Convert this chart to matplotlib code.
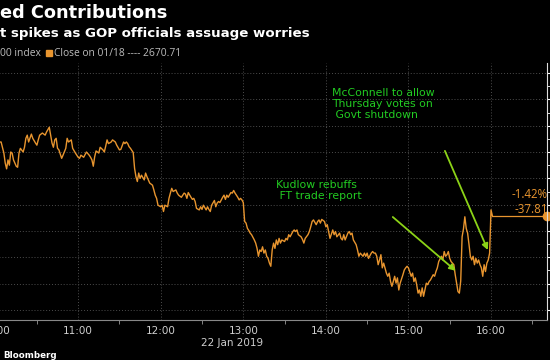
import matplotlib.pyplot as plt
from matplotlib.patches import Rectangle
from matplotlib.ticker import FuncFormatter, MultipleLocator

plt.rcParams['font.family'] = ['DejaVu Sans']

# S&P 500, 22 Jan 2019 -- minutes after 10:00 and index level
mins = [3, 4, 6, 7, 8, 9, 10, 11, 12, 13, 15, 16, 17, 18, 20, 21, 22, 23, 24, 26,
        27, 29, 30, 31, 32, 34, 36, 37, 39, 40, 41, 42, 43, 44, 45, 46, 48, 49, 51, 52,
        53, 55, 56, 58, 60, 61, 62, 64, 66, 68, 69, 70, 71, 72, 73, 75, 76, 78, 79, 80,
        81, 82, 84, 85, 87, 88, 90, 91, 93, 94, 95, 96, 97, 98, 100, 101, 102, 103, 104, 105,
        106, 108, 109, 110, 111, 112, 114, 115, 116, 117, 118, 120, 121, 122, 123, 125, 126, 127, 128, 129,
        131, 132, 133, 134, 135, 137, 138, 139, 140, 142, 143, 144, 145, 146, 148, 149, 150, 151, 153, 154,
        155, 156, 157, 159, 160, 161, 162, 163, 165, 166, 167, 168, 169, 171, 172, 173, 174, 176, 177, 178,
        179, 180, 181, 182, 183, 184, 185, 186, 188, 189, 190, 191, 192, 193, 194, 195, 196, 197, 198, 199,
        200, 201, 202, 203, 204, 205, 206, 207, 208, 210, 211, 212, 213, 214, 216, 217, 218, 219, 220, 222,
        223, 224, 225, 227, 228, 229, 230, 231, 233, 234, 235, 236, 237, 239, 240, 241, 242, 243, 245, 246,
        247, 248, 250, 251, 252, 253, 254, 256, 257, 258, 259, 260, 262, 263, 264, 265, 267, 268, 269, 270,
        271, 273, 274, 275, 276, 277, 278, 279, 280, 281, 282, 284, 285, 286, 287, 288, 289, 290, 291, 292,
        293, 294, 296, 297, 298, 299, 300, 302, 303, 304, 305, 306, 307, 308, 309, 310, 311, 313, 314, 315,
        316, 318, 319, 320, 321, 322, 324, 325, 326, 327, 328, 329, 330, 331, 333, 334, 335, 336, 337, 338,
        339, 340, 341, 342, 343, 344, 345, 346, 347, 348, 349, 350, 351, 352, 353, 354, 355, 356, 357, 358,
        359, 360, 361]
spx = [2646.9, 2646.9, 2644.8, 2642.9, 2641.8, 2643.5, 2642.5, 2645.0, 2644.8, 2643.5,
       2642.3, 2642.1, 2644.8, 2645.7, 2645.0, 2645.9, 2647.6, 2648.2, 2646.9, 2648.4,
       2647.6, 2646.7, 2646.3, 2647.3, 2648.2, 2648.6, 2648.2, 2648.8, 2649.7, 2648.2,
       2646.7, 2645.9, 2647.3, 2647.6, 2645.7, 2645.4, 2643.8, 2644.4, 2645.7, 2647.6,
       2646.9, 2647.3, 2645.7, 2644.8, 2644.0, 2643.8, 2644.4, 2644.0, 2645.0, 2644.4,
       2644.0, 2643.5, 2642.3, 2644.1, 2645.2, 2644.8, 2645.9, 2645.4, 2645.0, 2646.1,
       2647.3, 2646.6, 2646.9, 2647.3, 2646.9, 2646.3, 2645.4, 2645.5, 2646.9, 2646.6,
       2646.9, 2646.6, 2646.0, 2645.7, 2644.9, 2641.9, 2640.3, 2639.4, 2641.0, 2640.0,
       2640.6, 2639.7, 2641.0, 2640.3, 2639.7, 2639.1, 2638.7, 2637.8, 2636.8, 2636.2,
       2634.9, 2634.6, 2634.9, 2633.7, 2634.9, 2634.6, 2636.2, 2637.2, 2638.1, 2637.5,
       2637.8, 2637.2, 2636.8, 2636.6, 2636.4, 2637.2, 2637.0, 2636.2, 2637.3, 2636.4,
       2636.0, 2636.2, 2635.6, 2634.3, 2634.0, 2634.6, 2634.1, 2634.9, 2634.0, 2634.6,
       2634.1, 2633.7, 2634.9, 2635.8, 2634.6, 2635.3, 2635.6, 2635.4, 2636.4, 2636.8,
       2636.0, 2636.8, 2636.4, 2637.3, 2637.2, 2637.7, 2637.2, 2636.4, 2635.9, 2636.2,
       2635.9, 2635.4, 2631.8, 2631.5, 2630.5, 2630.1, 2629.6, 2629.3, 2628.3, 2627.7,
       2626.7, 2625.2, 2626.4, 2626.1, 2627.0, 2625.8, 2626.4, 2625.2, 2624.8, 2623.9,
       2623.3, 2626.4, 2627.7, 2626.7, 2628.3, 2627.4, 2628.6, 2627.7, 2628.3, 2628.0,
       2628.6, 2628.3, 2629.3, 2628.9, 2629.9, 2630.2, 2629.9, 2630.2, 2629.3, 2628.9,
       2628.4, 2627.7, 2628.6, 2629.3, 2629.9, 2630.8, 2631.8, 2632.1, 2631.2, 2631.8,
       2632.1, 2631.5, 2632.2, 2631.8, 2630.8, 2631.2, 2629.9, 2628.6, 2630.2, 2629.3,
       2629.9, 2628.9, 2629.6, 2628.6, 2628.3, 2629.3, 2628.3, 2629.6, 2629.9, 2629.3,
       2629.6, 2628.3, 2627.4, 2626.4, 2625.2, 2625.8, 2625.2, 2625.8, 2625.2, 2625.8,
       2624.8, 2625.8, 2626.1, 2625.8, 2625.8, 2625.2, 2623.6, 2624.5, 2625.5, 2623.0,
       2623.9, 2622.0, 2621.4, 2622.0, 2620.4, 2619.5, 2620.4, 2621.4, 2620.1, 2621.1,
       2618.8, 2620.1, 2621.7, 2622.6, 2623.0, 2623.3, 2623.0, 2621.4, 2622.0, 2620.4,
       2621.1, 2619.8, 2618.2, 2618.8, 2617.6, 2619.2, 2617.6, 2620.1, 2619.8, 2620.4,
       2620.7, 2621.7, 2621.4, 2622.3, 2623.0, 2624.2, 2625.2, 2624.5, 2626.1, 2625.2,
       2625.5, 2626.1, 2624.8, 2624.2, 2623.6, 2621.7, 2620.1, 2618.5, 2618.2, 2620.5,
       2628.9, 2630.4, 2632.7, 2630.5, 2629.6, 2627.5, 2625.2, 2624.5, 2625.2, 2623.6,
       2624.8, 2623.9, 2624.5, 2623.6, 2623.0, 2621.4, 2623.6, 2622.3, 2623.9, 2624.5,
       2625.8, 2634.0, 2632.9]

prev_close = 2670.71
last = spx[-1]
chg = last - prev_close
pct = chg / prev_close * 100

orange = '#e8952f'
green = '#22cc22'
arrow_green = '#8cd317'
xmax = 400.7

fig = plt.figure(figsize=(5.5, 3.6), dpi=100, facecolor='black')
ax = fig.add_axes([-4.4 / 550, 40 / 360, 551.4 / 550, 257 / 360], facecolor='black')

ax.plot(mins, spx, color=orange, lw=1.0)
ax.plot([mins[-1], xmax], [last, last], color=orange, lw=0.9)
ax.plot([xmax], [last], 'o', color=orange, ms=6, clip_on=False)

ax.set_xlim(0, xmax)
ax.set_ylim(2613.1, 2661.9)

ax.xaxis.set_major_locator(MultipleLocator(60))
ax.xaxis.set_minor_locator(MultipleLocator(30))
ax.xaxis.set_major_formatter(FuncFormatter(lambda v, p: '%d:00' % (10 + int(v) // 60)))
ax.yaxis.set_major_locator(MultipleLocator(5))
ax.yaxis.set_minor_locator(MultipleLocator(2.5))
ax.yaxis.tick_right()

ax.tick_params(axis='x', which='major', length=0, pad=4, labelsize=7.5, labelcolor='#cfcfcf')
ax.tick_params(axis='x', which='minor', length=3, color='#999999')
ax.tick_params(axis='y', which='both', direction='out', colors='white', labelright=False)
ax.tick_params(axis='y', which='major', length=5)
ax.tick_params(axis='y', which='minor', length=2.5)

for s in ['top', 'left']:
    ax.spines[s].set_visible(False)
ax.spines['right'].set_color('#dddddd')
ax.spines['bottom'].set_color('#888888')
ax.grid(True, which='major', color='#4d4d4d', ls=(0, (1, 2)), lw=0.7)

# annotations
ax.text(244.2, 2654.1, 'McConnell to allow\nThursday votes on\n Govt shutdown',
        color=green, fontsize=7.8, va='center', linespacing=1.15)
ax.text(204.1, 2637.7, 'Kudlow rebuffs\n FT trade report',
        color=green, fontsize=7.8, va='center', linespacing=1.15)
ax.annotate('', xy=(335.9, 2622.1), xytext=(287.1, 2633.0),
            arrowprops=dict(arrowstyle='-|>', color=arrow_green, lw=1.3, mutation_scale=9))
ax.annotate('', xy=(358.5, 2625.9), xytext=(325.7, 2645.7),
            arrowprops=dict(arrowstyle='-|>', color=arrow_green, lw=1.3, mutation_scale=9))

fig.text(548 / 550, 1 - 194 / 360, '%.2f%%' % pct, color=orange, fontsize=8.3,
         family='Open Sans', ha='right', va='center')
fig.text(548 / 550, 1 - 209 / 360, '%.2f' % chg, color=orange, fontsize=8.3,
         family='Open Sans', ha='right', va='center')

# header
fig.text(0, 1 - 13 / 360, 'ed Contributions', color='white', fontsize=12.8, weight='bold', va='center')
fig.text(0, 1 - 33 / 360, 't spikes as GOP officials assuage worries', color='white',
         fontsize=9.6, weight='bold', va='center')
fig.text(0, 1 - 53 / 360, '00 index', color='#bdbdbd', fontsize=7.4, family='Open Sans', va='center')
fig.patches.append(Rectangle((46 / 550, 1 - 56 / 360), 6 / 550, 6 / 360, color=orange,
                             transform=fig.transFigure, figure=fig))
fig.text(54 / 550, 1 - 53 / 360, 'Close on 01/18 ---- %.2f' % prev_close, color='#bdbdbd',
         fontsize=7.4, family='Open Sans', va='center')

fig.text(232 / 550, 1 - 343 / 360, '22 Jan 2019', color='#cfcfcf', fontsize=7.5, ha='center', va='center')
fig.text(3 / 550, 1 - 355 / 360, 'Bloomberg', color='white', fontsize=6.3, weight='bold', va='center')

fig.savefig('out.png', dpi=100, facecolor='black')
